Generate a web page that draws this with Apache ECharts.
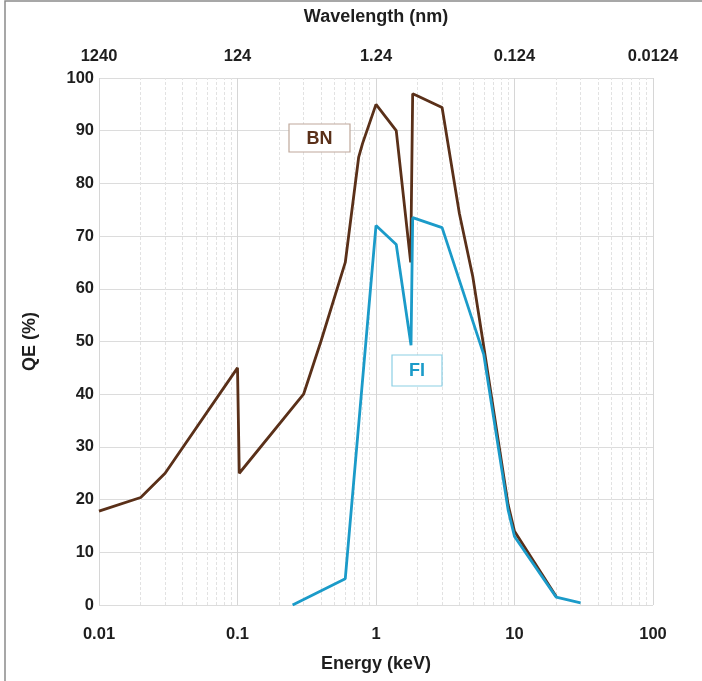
<!DOCTYPE html>
<html>
<head>
<meta charset="utf-8">
<script src="https://cdn.jsdelivr.net/npm/echarts@6/dist/echarts.min.js"></script>
<style>
  html, body { margin: 0; padding: 0; background: #fff; }
  #chart { width: 702px; height: 681px; }
</style>
</head>
<body>
<div id="chart"></div>
<script>
// energy (keV) / QE (%)
const bnEnergy = [0.01, 0.02, 0.03, 0.1, 0.103, 0.3, 0.4, 0.6, 0.75, 0.8, 1.0, 1.4, 1.78, 1.84, 2.0, 3.0, 4.0, 5.0, 6.0, 9.0, 10, 20]
const bnQE     = [17.8, 20.4, 25, 45, 25, 40, 50, 65, 85, 87.6, 95, 90, 65, 97, 96.6, 94.4, 74.3, 62.3, 49, 19, 14, 1.6]

const fiEnergy = [0.25, 0.6, 1.0, 1.4, 1.79, 1.84, 3.0, 6.0, 9.0, 10, 20, 30]
const fiQE     = [0, 5, 72, 68.4, 49.3, 73.5, 71.6, 47.5, 18, 13, 1.5, 0.4]

// top axis: wavelength labels at each energy decade
const decades = [0.01, 0.1, 1, 10, 100]
const wavelengthLabels = ['1240', '124', '1.24', '0.124', '0.0124']

const bnColor = '#5a3019'
const fiColor = '#1b9bc9'
const labelFont = 'Liberation Sans, Arial, sans-serif'

const zip = (xs, ys) => xs.map((x, i) => [x, ys[i]])

// minor log grid lines (2..9 within each decade)
const minorGrid = []
decades.slice(0, -1).forEach(d => {
  for (let k = 2; k <= 9; k++) minorGrid.push({ xAxis: +(d * k).toPrecision(3) })
})

const chart = echarts.init(document.getElementById('chart'))

const axisText = { color: '#1e1e1e', fontSize: 16.5, fontWeight: 'bold', fontFamily: labelFont }
const nameText = { color: '#1e1e1e', fontSize: 18, fontWeight: 'bold', fontFamily: labelFont }

chart.setOption({
  animation: false,
  grid: { left: 99, right: 49, top: 78, bottom: 76 },
  xAxis: [
    {
      type: 'log',
      logBase: 10,
      min: 0.01,
      max: 100,
      name: 'Energy (keV)',
      nameLocation: 'middle',
      nameGap: 50,
      nameTextStyle: nameText,
      axisLine: { show: false },
      axisTick: { show: false },
      axisLabel: { ...axisText, margin: 21, formatter: v => String(+v.toPrecision(3)) },
      splitLine: { show: true, lineStyle: { color: '#d6d6d6', width: 1 } }
    },
    {
      type: 'log',
      logBase: 10,
      min: 0.01,
      max: 100,
      position: 'top',
      name: 'Wavelength (nm)',
      nameLocation: 'middle',
      nameGap: 52,
      nameTextStyle: nameText,
      axisLine: { show: false },
      axisTick: { show: false },
      splitLine: { show: false },
      axisLabel: {
        ...axisText,
        margin: 13,
        formatter: v => {
          const i = decades.findIndex(d => Math.abs(Math.log10(d) - Math.log10(v)) < 1e-6)
          return i >= 0 ? wavelengthLabels[i] : ''
        }
      }
    }
  ],
  yAxis: {
    type: 'value',
    min: 0,
    max: 100,
    interval: 10,
    name: 'QE (%)',
    nameLocation: 'middle',
    nameGap: 60,
    nameRotate: 90,
    nameTextStyle: nameText,
    axisLine: { show: false },
    axisTick: { show: false },
    axisLabel: { ...axisText, margin: 5 },
    splitLine: { lineStyle: { color: '#dcdcdc', width: 1 } }
  },
  series: [
    {
      name: 'grid',
      type: 'line',
      data: [],
      silent: true,
      z: 0,
      markLine: {
        silent: true,
        z: 0,
        symbol: ['none', 'none'],
        label: { show: false },
        emphasis: { disabled: true },
        lineStyle: { color: '#e2e2e2', width: 1, type: [3, 2] },
        data: minorGrid
      }
    },
    {
      name: 'BN',
      type: 'line',
      data: zip(bnEnergy, bnQE),
      symbol: 'none',
      lineStyle: { color: bnColor, width: 2.8 },
      z: 3
    },
    {
      name: 'FI',
      type: 'line',
      data: zip(fiEnergy, fiQE),
      symbol: 'none',
      lineStyle: { color: fiColor, width: 2.8 },
      z: 4
    }
  ],
  graphic: [
    {
      type: 'rect',
      x: 5, y: 1,
      shape: { width: 800, height: 800 },
      style: { fill: 'none', stroke: '#8a8a8a', lineWidth: 1.5 },
      silent: true
    },
    {
      type: 'rect', x: 289, y: 124, z: 10,
      shape: { width: 61, height: 28 },
      style: { fill: '#fff', stroke: '#bfa89b', lineWidth: 1.2 }
    },
    {
      type: 'text', x: 319.5, y: 139, z: 11,
      style: { text: 'BN', fill: bnColor, font: 'bold 18px ' + labelFont, align: 'center', verticalAlign: 'middle' }
    },
    {
      type: 'rect', x: 392, y: 355, z: 10,
      shape: { width: 50, height: 31 },
      style: { fill: '#fff', stroke: '#8ccfe4', lineWidth: 1.2 }
    },
    {
      type: 'text', x: 417, y: 371, z: 11,
      style: { text: 'FI', fill: fiColor, font: 'bold 18px ' + labelFont, align: 'center', verticalAlign: 'middle' }
    }
  ]
})
</script>
</body>
</html>
